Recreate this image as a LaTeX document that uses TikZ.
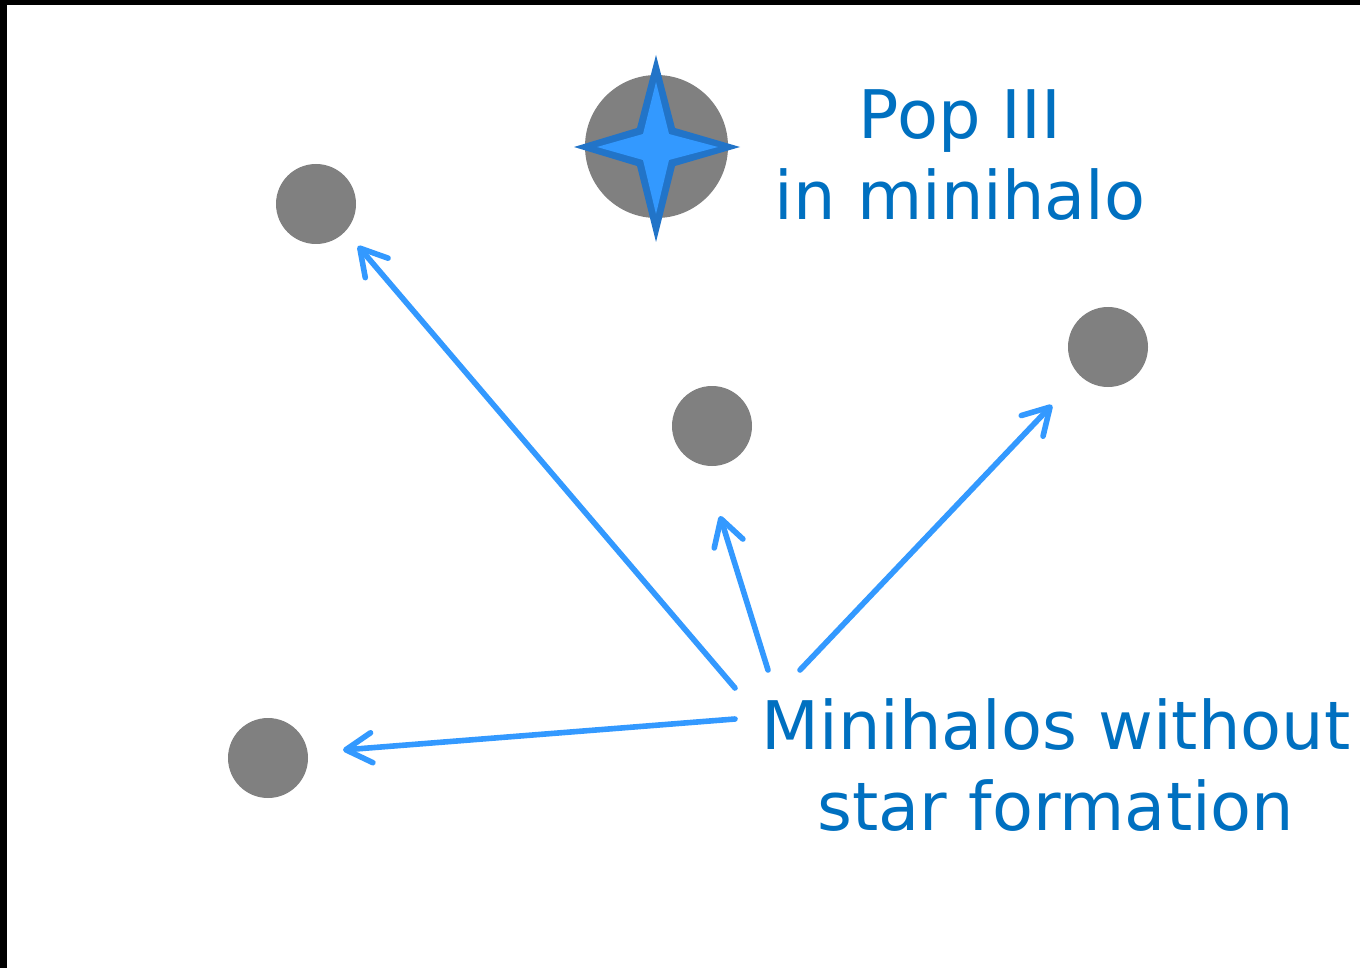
\documentclass[tikz,border=0pt]{standalone}
\usepackage{fontspec}
\setmainfont{DejaVu Sans}
\usetikzlibrary{arrows.meta}
\definecolor{halogray}{HTML}{808080}
\definecolor{labelblue}{HTML}{0070C0}
\definecolor{arrowblue}{HTML}{3399FF}
\definecolor{stardark}{HTML}{2274C8}
\definecolor{starlight}{HTML}{3399FF}
\tikzset{
  halo/.style={circle, fill=halogray, inner sep=0pt, outer sep=0pt, minimum size=40pt},
  bighalo/.style={circle, fill=halogray, inner sep=0pt, outer sep=0pt, minimum size=71.5pt},
  label/.style={text=labelblue, font=\fontsize{33.5}{40.5}\selectfont, align=center, inner sep=0pt},
  pointer/.style={draw=arrowblue, line width=2.8pt, line cap=round,
    -{Straight Barb[length=13pt, width=15pt, round]}},
}
\begin{document}
\begin{tikzpicture}[x=0.5pt, y=-0.5pt]
  % page and frame edges
  \useasboundingbox (0,0) rectangle (1360,968);
  \fill[white] (0,0) rectangle (1360,968);
  \fill[black] (0,0) rectangle (1360,5);
  \fill[black] (0,0) rectangle (7,968);

  % minihalos
  \node[halo] (hA) at (316,204) {};
  \node[halo] (hB) at (712,426) {};
  \node[halo] (hC) at (1108,347) {};
  \node[halo] (hD) at (268,758) {};
  \node[bighalo] (hStar) at (656.5,146.5) {};

  % four-pointed Pop III star
  \fill[stardark] (656,55) -- (675,128) -- (740,147) -- (675,166) -- (656,242)
    -- (637,166) -- (574,147) -- (637,128) -- cycle;
  \fill[starlight] (656,82) -- (669,134) -- (718,147) -- (669,160) -- (656,214)
    -- (643,160) -- (597,147) -- (643,134) -- cycle;

  % labels (base anchor sits on the last line)
  \node[label, anchor=base] (popiii) at (960,220) {Pop III\\in minihalo};
  \node[label, anchor=base] (nosf) at (1056,830) {Minihalos without\\star formation};

  % arrow tails near the lower label, tips near the halos
  \coordinate (sA) at (735,688);  \coordinate (tA) at (358,246);
  \coordinate (sB) at (768,670);  \coordinate (tB) at (720,516);
  \coordinate (sC) at (800,670);  \coordinate (tC) at (1052,405);
  \coordinate (sD) at (735,719);  \coordinate (tD) at (343,750);

  \draw[pointer] (sA) -- (tA);
  \draw[pointer] (sB) -- (tB);
  \draw[pointer] (sC) -- (tC);
  \draw[pointer] (sD) -- (tD);
\end{tikzpicture}
\end{document}
